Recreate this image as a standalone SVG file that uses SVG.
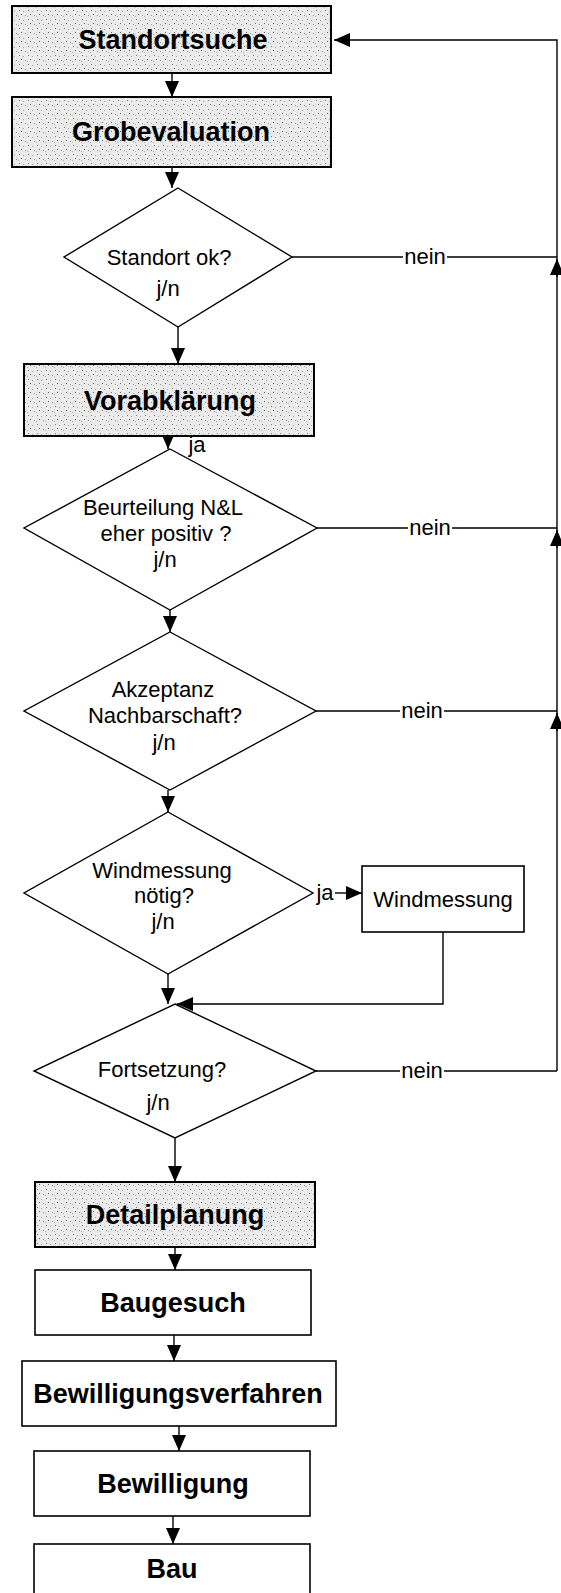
<svg xmlns="http://www.w3.org/2000/svg" width="561" height="1593" viewBox="0 0 561 1593">
<style>
.bx{stroke:#000;stroke-width:2;fill:url(#stip)}
.wb{stroke:#000;stroke-width:1.6;fill:#fff}
.dm{stroke:#000;stroke-width:1.4;fill:#fff}
.tb{font-family:"Liberation Sans",Arial,sans-serif;font-weight:bold;font-size:27px;text-anchor:middle;fill:#000}
.tr{font-family:"Liberation Sans",Arial,sans-serif;font-size:22px;text-anchor:middle;fill:#000}
.tl{font-family:"Liberation Sans",Arial,sans-serif;font-size:22px;text-anchor:middle;fill:#000}
.cn{stroke:#000;stroke-width:1.4;fill:none}
</style>
<defs>
<pattern id="stip" width="9" height="9" patternUnits="userSpaceOnUse">
<rect width="9" height="9" fill="#eaeaea"/>
<rect x="1" y="1" width="1" height="1" fill="#7a7a7a"/>
<rect x="5" y="2" width="1" height="1" fill="#a8a8a8"/>
<rect x="3" y="5" width="1" height="1" fill="#666"/>
<rect x="7" y="6" width="1" height="1" fill="#999"/>
<rect x="0" y="7" width="1" height="1" fill="#b5b5b5"/>
<rect x="6" y="4" width="1" height="1" fill="#fff"/>
<rect x="2" y="3" width="1" height="1" fill="#fff"/>
<rect x="8" y="0" width="1" height="1" fill="#fff"/>
</pattern>
<marker id="ah" viewBox="0 0 16 14" refX="16" refY="7" markerWidth="16" markerHeight="14" markerUnits="userSpaceOnUse" orient="auto"><path d="M0,0 L16,7 L0,14 Z" fill="#000"/></marker>
</defs>

<g id="connectors">
<path class="cn" d="M172,73 V97" marker-end="url(#ah)"/>
<path class="cn" d="M172,167 V188" marker-end="url(#ah)"/>
<path class="cn" d="M178,327 V364" marker-end="url(#ah)"/>
<path class="cn" d="M168,436 V449" marker-end="url(#ah)"/>
<text class="tl" x="197" y="452">ja</text>
<path class="cn" d="M170,610 V632" marker-end="url(#ah)"/>
<path class="cn" d="M168,790 V812" marker-end="url(#ah)"/>
<path class="cn" d="M335,893 H362" marker-end="url(#ah)"/>
<text class="tl" x="325" y="900">ja</text>
<path class="cn" d="M168,974 V1004" marker-end="url(#ah)"/>
<path class="cn" d="M443,932 V1004 H177" marker-end="url(#ah)"/>
<path class="cn" d="M175,1138 V1182" marker-end="url(#ah)"/>
<path class="cn" d="M175,1247 V1270" marker-end="url(#ah)"/>
<path class="cn" d="M174,1335 V1361" marker-end="url(#ah)"/>
<path class="cn" d="M179,1426 V1451" marker-end="url(#ah)"/>
<path class="cn" d="M173,1516 V1544" marker-end="url(#ah)"/>
<path class="cn" d="M292,257 H403 M447,257 H557"/>
<text class="tl" x="425" y="264">nein</text>
<path class="cn" d="M317,528 H408 M452,528 H557"/>
<text class="tl" x="430" y="535">nein</text>
<path class="cn" d="M316,711 H400 M444,711 H557"/>
<text class="tl" x="422" y="718">nein</text>
<path class="cn" d="M316,1071 H400 M444,1071 H557"/>
<text class="tl" x="422" y="1078">nein</text>
<path class="cn" d="M557,1071 V40 H334" marker-end="url(#ah)"/>
<path class="cn" d="M557,277 V259" marker-end="url(#ah)"/>
<path class="cn" d="M557,548 V530" marker-end="url(#ah)"/>
<path class="cn" d="M557,731 V713" marker-end="url(#ah)"/>
</g>

<g id="n-standortsuche"><rect class="bx" x="12" y="6" width="319" height="67"/><text class="tb" x="173" y="49">Standortsuche</text></g>
<g id="n-grobevaluation"><rect class="bx" x="12" y="97" width="319" height="70"/><text class="tb" x="171" y="141">Grobevaluation</text></g>
<g id="n-standortok"><polygon class="dm" points="178,188 292,257 178,327 64,257"/><text class="tr" x="169" y="265">Standort ok?</text><text class="tr" x="168" y="296">j/n</text></g>
<g id="n-vorabklaerung"><rect class="bx" x="24" y="364" width="290" height="72"/><text class="tb" x="170" y="410">Vorabklärung</text></g>
<g id="n-beurteilung"><polygon class="dm" points="170,449 317,528 170,610 24,528"/><text class="tr" x="163" y="515">Beurteilung N&amp;L</text><text class="tr" x="166" y="541">eher positiv ?</text><text class="tr" x="165" y="567">j/n</text></g>
<g id="n-akzeptanz"><polygon class="dm" points="170,632 316,711 170,790 24,711"/><text class="tr" x="163" y="697">Akzeptanz</text><text class="tr" x="165" y="723">Nachbarschaft?</text><text class="tr" x="164" y="750">j/n</text></g>
<g id="n-windmessungnoetig"><polygon class="dm" points="168,812 313,893 168,974 24,893"/><text class="tr" x="162" y="878">Windmessung</text><text class="tr" x="164" y="903">nötig?</text><text class="tr" x="163" y="929">j/n</text></g>
<g id="n-windmessung"><rect class="wb" x="362" y="866" width="162" height="66"/><text class="tr" x="443" y="907">Windmessung</text></g>
<g id="n-fortsetzung"><polygon class="dm" points="175,1004 316,1071 175,1138 34,1071"/><text class="tr" x="162" y="1077">Fortsetzung?</text><text class="tr" x="158" y="1110">j/n</text></g>
<g id="n-detailplanung"><rect class="bx" x="35" y="1182" width="280" height="65"/><text class="tb" x="175" y="1224">Detailplanung</text></g>
<g id="n-baugesuch"><rect class="wb" x="35" y="1270" width="276" height="65"/><text class="tb" x="173" y="1312">Baugesuch</text></g>
<g id="n-bewilligungsverfahren"><rect class="wb" x="22" y="1361" width="314" height="65"/><text class="tb" x="178" y="1403">Bewilligungsverfahren</text></g>
<g id="n-bewilligung"><rect class="wb" x="34" y="1451" width="276" height="65"/><text class="tb" x="173" y="1493">Bewilligung</text></g>
<g id="n-bau"><rect class="wb" x="34" y="1544" width="276" height="60"/><text class="tb" x="172" y="1578">Bau</text></g>
</svg>
